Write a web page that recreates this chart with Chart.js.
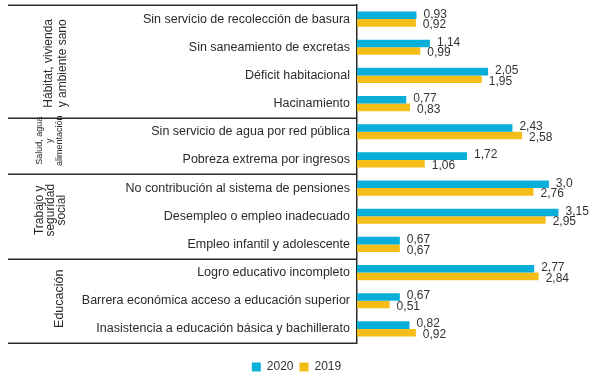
<!DOCTYPE html>
<html>
<head>
<meta charset="utf-8">
<script src="https://cdn.jsdelivr.net/npm/chart.js@4/dist/chart.umd.min.js"></script>
<style>
html,body{margin:0;padding:0;background:#fff;}
#wrap{width:598px;height:378px;position:relative;}
</style>
</head>
<body>
<div id="wrap"><canvas id="c" width="598" height="378"></canvas></div>
<script>
const categories = [
  'Sin servicio de recolección de basura',
  'Sin saneamiento de excretas',
  'Déficit habitacional',
  'Hacinamiento',
  'Sin servicio de agua por red pública',
  'Pobreza extrema por ingresos',
  'No contribución al sistema de pensiones',
  'Desempleo o empleo inadecuado',
  'Empleo infantil y adolescente',
  'Logro educativo incompleto',
  'Barrera económica acceso a educación superior',
  'Inasistencia a educación básica y bachillerato'
];
const values2020 = [0.93, 1.14, 2.05, 0.77, 2.43, 1.72, 3.0, 3.15, 0.67, 2.77, 0.67, 0.82];
const values2019 = [0.92, 0.99, 1.95, 0.83, 2.58, 1.06, 2.76, 2.95, 0.67, 2.84, 0.51, 0.92];
const text2020 = ['0,93','1,14','2,05','0,77','2,43','1,72','3,0','3,15','0,67','2,77','0,67','0,82'];
const text2019 = ['0,92','0,99','1,95','0,83','2,58','1,06','2,76','2,95','0,67','2,84','0,51','0,92'];
const groupNames = [
  ['Hábitat, vivienda', 'y ambiente sano'],
  ['Salud, agua', 'y', 'alimentación'],
  ['Trabajo y', 'seguridad', 'social'],
  ['Educación']
];
const groupSizes = [4, 2, 3, 3];
const seriesNames = ['2020', '2019'];

const BLUE = '#0AAFD9';
const YELLOW = '#F4BD18';
const INK = '#2a2a2a';
const FONT = '"Liberation Sans", Arial, sans-serif';

const groupPlugin = {
  id: 'groups',
  afterDraw(chart) {
    const ctx = chart.ctx;
    const y = chart.scales.y;
    const axisX = chart.chartArea.left;
    const centersX = [56, 50, 51, 60];
    const shiftY = [2, -5, -6, -2];
    const fontSizes = [12, 9, 12, 12.5];
    const lineHeights = [14, 10, 11, 14];
    ctx.save();
    ctx.strokeStyle = INK;
    ctx.lineWidth = 1.5;
    let idx = 0;
    const bounds = [0];
    groupSizes.forEach(s => { idx += s; bounds.push(idx); });
    bounds.forEach(b => {
      const py = Math.round(y.getPixelForValue(b - 0.5)) + 0.25;
      ctx.beginPath();
      ctx.moveTo(8, py);
      ctx.lineTo(axisX, py);
      ctx.stroke();
    });
    ctx.fillStyle = INK;
    for (let g = 0; g < groupSizes.length; g++) {
      const y0 = y.getPixelForValue(bounds[g] - 0.5);
      const y1 = y.getPixelForValue(bounds[g + 1] - 0.5);
      const cy = (y0 + y1) / 2 + shiftY[g];
      const lines = groupNames[g];
      const lh = lineHeights[g];
      ctx.save();
      ctx.translate(centersX[g], cy);
      ctx.rotate(-Math.PI / 2);
      ctx.font = fontSizes[g] + 'px ' + FONT;
      ctx.textAlign = 'center';
      ctx.textBaseline = 'middle';
      lines.forEach((t, i) => {
        ctx.fillText(t, 0, (i - (lines.length - 1) / 2) * lh);
      });
      ctx.restore();
    }
    ctx.font = '12px ' + FONT;
    ctx.textAlign = 'left';
    ctx.textBaseline = 'middle';
    ctx.fillStyle = '#333';
    const texts = [text2020, text2019];
    const dy = [-1, 2];
    chart.data.datasets.forEach((ds, di) => {
      const meta = chart.getDatasetMeta(di);
      meta.data.forEach((bar, i) => {
        ctx.fillText(texts[di][i], bar.x + 7, bar.y + dy[di]);
      });
    });
    ctx.restore();
  }
};

new Chart(document.getElementById('c'), {
  type: 'bar',
  data: {
    labels: categories,
    datasets: [
      { label: seriesNames[0], data: values2020, backgroundColor: BLUE, categoryPercentage: 0.54, barPercentage: 1.0 },
      { label: seriesNames[1], data: values2019, backgroundColor: YELLOW, categoryPercentage: 0.54, barPercentage: 1.0 }
    ]
  },
  options: {
    indexAxis: 'y',
    responsive: false,
    animation: false,
    layout: { padding: { top: 5, right: 5, bottom: -5, left: 0 } },
    plugins: {
      legend: {
        position: 'bottom',
        labels: { boxWidth: 9, boxHeight: 9, padding: 6, color: '#333', font: { size: 12, family: FONT } }
      },
      tooltip: { enabled: false }
    },
    scales: {
      x: {
        min: 0, max: 3.69,
        display: true,
        grid: { display: false, drawTicks: false },
        border: { display: false },
        ticks: { display: false },
        afterFit(s) { s.height = 12; }
      },
      y: {
        grid: { display: false, drawTicks: false },
        border: { display: true, color: INK, width: 1.5 },
        ticks: { padding: 7, color: INK, font: { size: 12.5, family: FONT } },
        afterFit(s) { s.width = 357; s.paddingTop = 0; s.paddingBottom = 0; }
      }
    }
  },
  plugins: [groupPlugin]
});
</script>
</body>
</html>
